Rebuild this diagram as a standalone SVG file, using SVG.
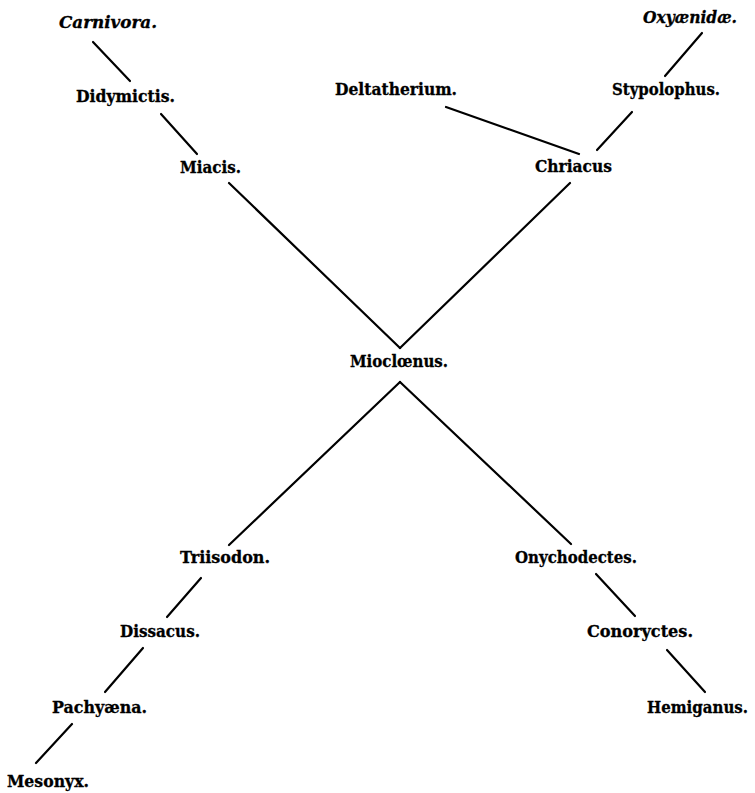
<svg xmlns="http://www.w3.org/2000/svg" width="755" height="793" viewBox="0 0 755 793">
<style>
  .lbl { font-family: "DejaVu Serif", "Liberation Serif", serif; font-weight: bold; font-size: 16px; fill: #000; stroke: #000; stroke-width: 0.3; }
  .it { font-style: italic; }
  .edge { stroke: #000; stroke-width: 2.2; stroke-linecap: round; fill: none; }
</style>
<rect width="755" height="793" fill="#fff"/>
<g id="connectors">
  <line class="edge" x1="93" y1="42" x2="130" y2="81"/>
  <line class="edge" x1="161" y1="114" x2="197" y2="154"/>
  <line class="edge" x1="229" y1="183" x2="400" y2="348"/>
  <line class="edge" x1="702" y1="33" x2="665" y2="76"/>
  <line class="edge" x1="632" y1="112" x2="597" y2="150"/>
  <line class="edge" x1="446" y1="107" x2="579" y2="154"/>
  <line class="edge" x1="570" y1="183" x2="400" y2="348"/>
  <line class="edge" x1="400" y1="382" x2="229" y2="545"/>
  <line class="edge" x1="400" y1="382" x2="571" y2="544"/>
  <line class="edge" x1="201" y1="578" x2="167" y2="617"/>
  <line class="edge" x1="143" y1="648" x2="105" y2="692"/>
  <line class="edge" x1="72" y1="724" x2="36" y2="763"/>
  <line class="edge" x1="596" y1="574" x2="635" y2="616"/>
  <line class="edge" x1="667" y1="650" x2="705" y2="692"/>
</g>
<g id="carnivora"><text class="lbl it" x="59" y="28" textLength="98" lengthAdjust="spacingAndGlyphs">Carnivora.</text></g>
<g id="didymictis"><text class="lbl" x="76" y="102" textLength="99" lengthAdjust="spacingAndGlyphs">Didymictis.</text></g>
<g id="miacis"><text class="lbl" x="180" y="173" textLength="61" lengthAdjust="spacingAndGlyphs">Miacis.</text></g>
<g id="deltatherium"><text class="lbl" x="335" y="95" textLength="122" lengthAdjust="spacingAndGlyphs">Deltatherium.</text></g>
<g id="stypolophus"><text class="lbl" x="612" y="95" textLength="108" lengthAdjust="spacingAndGlyphs">Stypolophus.</text></g>
<g id="oxyaenidae"><text class="lbl it" x="643" y="23" textLength="94" lengthAdjust="spacingAndGlyphs">Oxyænidæ.</text></g>
<g id="chriacus"><text class="lbl" x="535" y="172" textLength="77" lengthAdjust="spacingAndGlyphs">Chriacus</text></g>
<g id="mioclaenus"><text class="lbl" x="350" y="367" textLength="98" lengthAdjust="spacingAndGlyphs">Mioclœnus.</text></g>
<g id="triisodon"><text class="lbl" x="180" y="563" textLength="90" lengthAdjust="spacingAndGlyphs">Triisodon.</text></g>
<g id="onychodectes"><text class="lbl" x="515" y="563" textLength="122" lengthAdjust="spacingAndGlyphs">Onychodectes.</text></g>
<g id="dissacus"><text class="lbl" x="120" y="637" textLength="80" lengthAdjust="spacingAndGlyphs">Dissacus.</text></g>
<g id="conoryctes"><text class="lbl" x="587" y="637" textLength="106" lengthAdjust="spacingAndGlyphs">Conoryctes.</text></g>
<g id="pachyaena"><text class="lbl" x="52" y="713" textLength="95" lengthAdjust="spacingAndGlyphs">Pachyæna.</text></g>
<g id="hemiganus"><text class="lbl" x="647" y="713" textLength="101" lengthAdjust="spacingAndGlyphs">Hemiganus.</text></g>
<g id="mesonyx"><text class="lbl" x="7" y="787" textLength="82" lengthAdjust="spacingAndGlyphs">Mesonyx.</text></g>
</svg>
